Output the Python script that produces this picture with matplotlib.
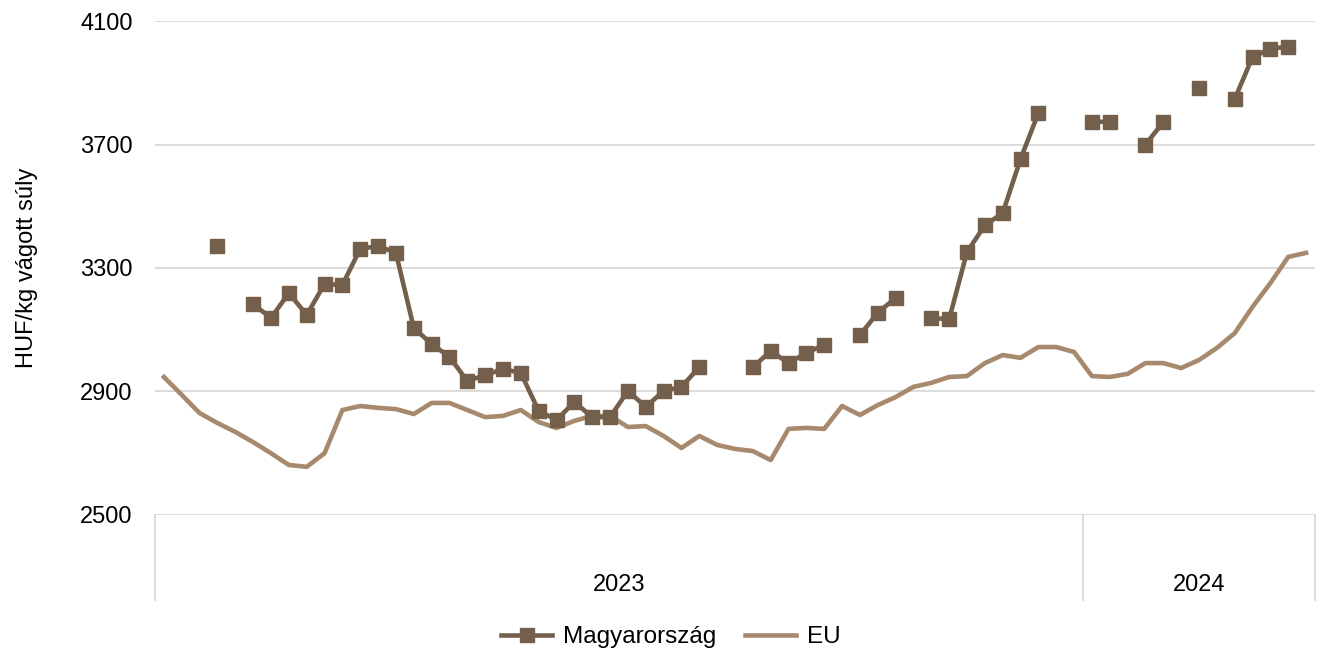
import numpy as np
import matplotlib
matplotlib.use("Agg")
import matplotlib.pyplot as plt
import matplotlib.transforms as mtransforms

plt.rcParams["font.family"] = ["Liberation Sans", "DejaVu Sans"]

# heti adatok: 2023 (52 hét) + 2024 (13 hét)
years = ["2023", "2024"]
weeks_per_year = [52, 13]

magyar = [
    None, None, None, 3370, None, 3183, 3138, 3219, 3148, 3248,
    3245, 3362, 3371, 3349, 3106, 3054, 3012, 2934, 2953, 2973,
    2960, 2837, 2808, 2866, 2817, 2817, 2902, 2850, 2902, 2915,
    2979, None, None, 2979, 3031, 2992, 3025, 3051, None, 3083,
    3155, 3203, None, 3138, 3134, 3352, 3438, 3478, 3653, 3802,
    None, None, 3773, 3774, None, 3700, 3772, None, 3883, None,
    3847, 3983, 4010, 4017, None,
]

eu = [
    2947, 2889, 2830, 2798, 2769, 2736, 2700, 2662, 2656, 2700,
    2840, 2853, 2847, 2843, 2827, 2863, 2863, 2840, 2817, 2821,
    2840, 2801, 2782, 2805, 2821, 2821, 2785, 2788, 2756, 2717,
    2756, 2727, 2714, 2707, 2678, 2779, 2782, 2779, 2853, 2824,
    2856, 2882, 2915, 2928, 2947, 2950, 2992, 3018, 3009, 3044,
    3044, 3028, 2950, 2947, 2957, 2992, 2992, 2976, 3002, 3041,
    3089, 3174, 3251, 3336, 3349,
]

y_ticks = [2500, 2900, 3300, 3700, 4100]

MAGYAR_COLOR = "#735f4c"
EU_COLOR = "#a7896d"
GRID_COLOR = "#d9d9d9"

magyar_arr = np.array([np.nan if v is None else v for v in magyar], dtype=float)
eu_arr = np.array(eu, dtype=float)
x = np.arange(len(eu_arr))

fig = plt.figure(figsize=(13.22, 6.55), dpi=100)
ax = fig.add_axes([155 / 1322, 1 - 515 / 655, 1160 / 1322, 494 / 655])

ax.plot(x, magyar_arr, color=MAGYAR_COLOR, lw=3.3, marker="s", markersize=10,
        label="Magyarország", zorder=3)
ax.plot(x, eu_arr, color=EU_COLOR, lw=3.3, label="EU", zorder=2)

ax.set_xlim(-0.5, len(x) - 0.5)
ax.set_ylim(2500, 4100)
ax.set_yticks(y_ticks)
ax.set_xticks([])
ax.tick_params(axis="y", length=0, pad=16, labelsize=17)
ax.yaxis.grid(True, color=GRID_COLOR, lw=1.3)
ax.set_axisbelow(True)
for s in ax.spines.values():
    s.set_visible(False)

ax.set_ylabel("HUF/kg vágott súly", fontsize=17, labelpad=30)

# év-kategóriák a tengely alatt
trans = mtransforms.blended_transform_factory(ax.transData, ax.transAxes)
bounds = [-0.5]
for n in weeks_per_year:
    bounds.append(bounds[-1] + n)
for b in bounds:
    ax.plot([b, b], [0, -0.172], transform=trans, color=GRID_COLOR, lw=1.3,
            clip_on=False)
for i, yr in enumerate(years):
    ax.text((bounds[i] + bounds[i + 1]) / 2, -0.142, yr, transform=trans,
            ha="center", va="center", fontsize=17)

fig.legend(loc="center", bbox_to_anchor=(0.5076, 1 - 637 / 655), ncol=2,
           frameon=False, fontsize=17.5, handlelength=2.1, handletextpad=0.45,
           columnspacing=1.2)

fig.savefig("out.png", dpi=100)
plt.close(fig)
